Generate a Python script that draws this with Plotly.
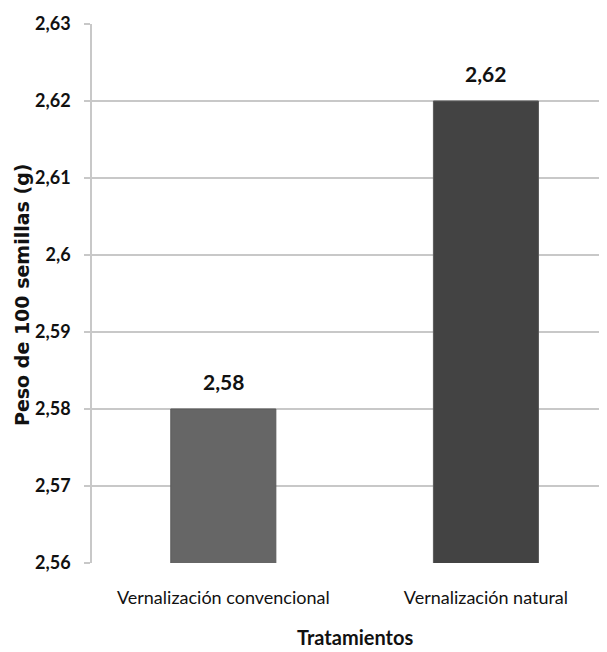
import plotly.graph_objects as go

categories = ["Vernalización convencional", "Vernalización natural"]
values = [2.58, 2.62]
value_labels = ["2,58", "2,62"]
bar_colors = ["#666666", "#434343"]
y_ticks = [2.56, 2.57, 2.58, 2.59, 2.60, 2.61, 2.62, 2.63]
y_tick_labels = ["2,56", "2,57", "2,58", "2,59", "2,6", "2,61", "2,62", "2,63"]

FONT = "Lato"

fig = go.Figure()
fig.add_trace(go.Bar(
    x=[0, 1], y=values, width=0.4,
    marker=dict(color=bar_colors, line=dict(color="#5a5a5a", width=1)),
    hoverinfo="skip",
))
for i, (v, t) in enumerate(zip(values, value_labels)):
    fig.add_annotation(x=i, y=v, text="<b>" + t + "</b>", showarrow=False, yanchor="bottom", yshift=13,
                       font=dict(family=FONT, size=21, color="#111111"))

fig.update_layout(
    width=599, height=644,
    margin=dict(l=84, r=0, t=16, b=89),
    paper_bgcolor="white", plot_bgcolor="white",
    showlegend=False,
    separators=",.",
    font=dict(family=FONT, color="#111111"),
)
fig.update_xaxes(
    range=[-0.5, 1.461],
    tickmode="array", tickvals=[0, 1], ticktext=categories,
    tickfont=dict(family=FONT, size=18, color="#111111"),
    showgrid=False, showline=False, ticks="", ticklabelstandoff=22,
)
fig.update_yaxes(
    range=[2.56, 2.63],
    tickmode="array", tickvals=y_ticks, ticktext=["<b>" + s + "</b>" for s in y_tick_labels],
    tickfont=dict(family=FONT, size=18, color="#111111"),
    showgrid=True, gridcolor="#c8c8c8", gridwidth=1.5,
    showline=True, linecolor="#c8c8c8", linewidth=1.5,
    ticks="outside", ticklen=6, tickcolor="#c8c8c8", tickwidth=1.5,
    ticklabelstandoff=10, zeroline=False,
)
fig.add_annotation(
    xref="paper", yref="paper", x=(355 - 92) / 515, y=-(637 - 563) / 539,
    text="<b>Tratamientos</b>", showarrow=False, xanchor="center", yanchor="middle",
    font=dict(family=FONT, size=20, color="#111111"),
)
fig.add_annotation(
    xref="paper", yref="paper", x=-(92 - 22) / 515, y=(563 - 295) / 539,
    text="<b>Peso de 100 semillas (g)</b>", showarrow=False, textangle=-90,
    xanchor="center", yanchor="middle",
    font=dict(family="DejaVu Sans", size=19, color="#111111"),
)
fig.write_html("out.html")
